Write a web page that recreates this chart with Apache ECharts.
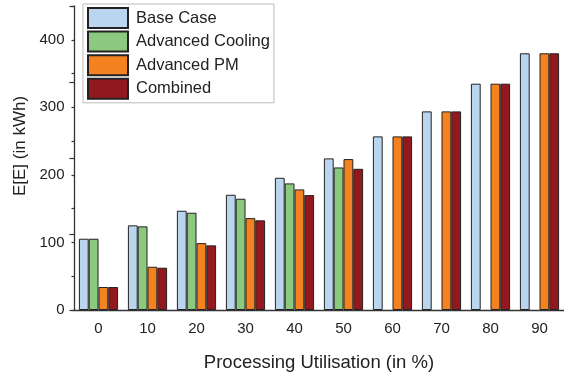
<!DOCTYPE html>
<html><head><meta charset="utf-8">
<script src="https://cdn.jsdelivr.net/npm/echarts@6/dist/echarts.min.js"></script>
<style>html,body{margin:0;padding:0;background:#fff}#c{width:564px;height:379px}</style>
</head><body><div id="c"></div>
<script>
const categories = ['0','10','20','30','40','50','60','70','80','90'];
const baseCase = [105.5,125.3,146.9,170.6,195.7,224.4,257,294,335,380];
const advCooling = [105.5,123.8,144,164.7,187.4,211,null,null,null,null];
const advPM = [34,64,99,136,178.5,223.4,257,294,335,380];
const combined = [34,62.6,95.7,132.7,170.1,209,257,294,335,380];
const yTicks = [0,100,200,300,400];
const seriesNames = ['Base Case','Advanced Cooling','Advanced PM','Combined'];
const colors = ['#BAD6EF','#8BC97E','#F58220','#921A1F'];

const FONT = 'Liberation Sans';
const chart = echarts.init(document.getElementById('c'), null, {renderer:'canvas'});
const dataSets = [baseCase, advCooling, advPM, combined];
const axisColor = '#333';
chart.setOption({
  animation:false,
  textStyle:{fontFamily:FONT},
  grid:{left:74, top:6, width:492.6, bottom:69, containLabel:false},
  legend:{
    orient:'vertical', left:83, top:4, padding:[3,4,3,4],
    itemWidth:40, itemHeight:20, itemGap:1.6, icon:'rect',
    backgroundColor:'#fff', borderColor:'#bbb', borderWidth:1,
    textStyle:{fontFamily:FONT, fontSize:16.5, color:'#222', lineHeight:20, padding:[0,0,0,3]},
    data:seriesNames
  },
  xAxis:[{
    type:'category', data:categories, boundaryGap:true,
    axisLine:{lineStyle:{color:axisColor, width:1.3}},
    axisTick:{alignWithLabel:true, length:5, lineStyle:{color:axisColor, width:1.2}},
    axisLabel:{fontFamily:FONT, fontSize:15, color:'#222', margin:11.5},
    name:'Processing Utilisation (in %)', nameLocation:'middle', nameGap:43,
    nameTextStyle:{fontFamily:FONT, fontSize:18.5, color:'#222'}
  },{
    type:'category', data:categories, boundaryGap:true, position:'bottom',
    axisLine:{show:false},
    axisTick:{alignWithLabel:false, length:3, lineStyle:{color:axisColor, width:1.2}},
    axisLabel:{show:false}
  }],
  yAxis:[{
    type:'value', min:0, max:450, interval:50,
    axisLine:{show:true, lineStyle:{color:axisColor, width:1.3}},
    axisTick:{show:true, length:2.5, lineStyle:{color:axisColor, width:1.2}},
    splitLine:{show:false},
    axisLabel:{fontFamily:FONT, fontSize:15, color:'#222', margin:9.5,
      formatter:v => yTicks.indexOf(v) >= 0 ? String(v) : ''},
    name:'E[E] (in kWh)', nameLocation:'middle', nameGap:34,
    nameTextStyle:{fontFamily:FONT, fontSize:17, color:'#222', padding:[0,0,0,24]}
  },{
    type:'value', min:0, max:400, interval:100, position:'left',
    axisLine:{show:false}, splitLine:{show:false},
    axisTick:{show:true, length:4.5, lineStyle:{color:axisColor, width:1.2}},
    axisLabel:{show:false}
  }],
  series: seriesNames.map((n,i)=>({
    name:n, type:'bar', data:dataSets[i], xAxisIndex:0, yAxisIndex:0,
    barGap:'0%', barCategoryGap:'20%',
    itemStyle:{color:colors[i], borderColor:'#222', borderWidth:1}
  }))
});
</script></body></html>
